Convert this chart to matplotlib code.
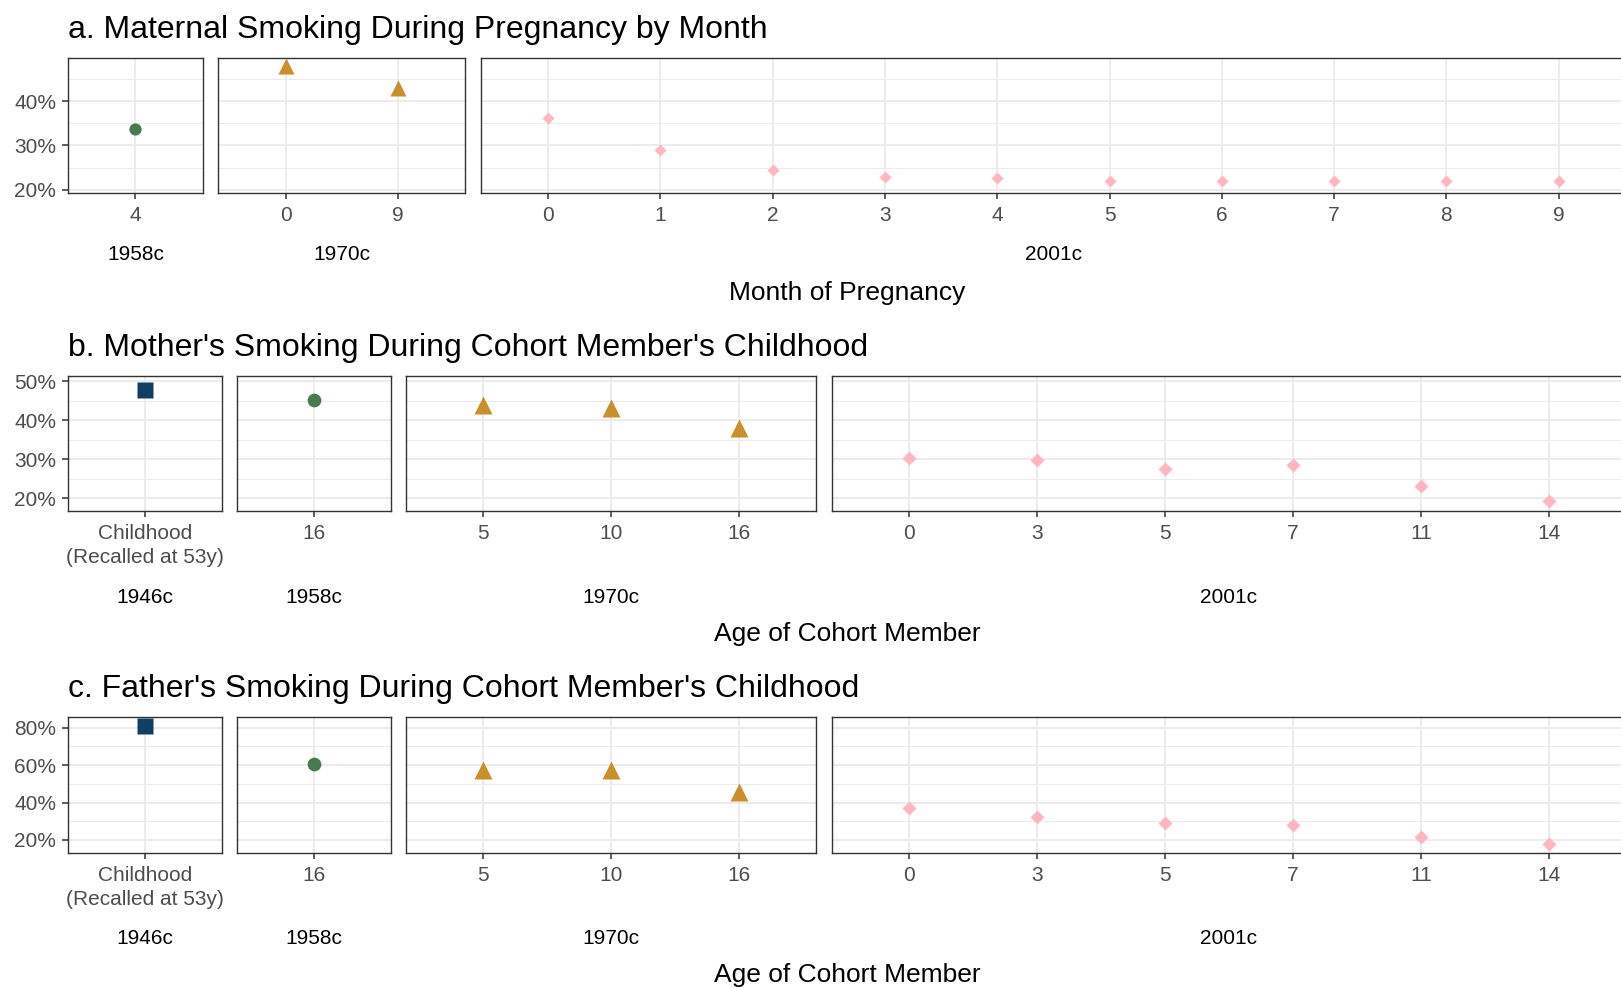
import matplotlib

matplotlib.use("Agg")

import matplotlib.pyplot as plt
from matplotlib.ticker import FixedLocator, FuncFormatter, MultipleLocator

plt.rcParams["font.family"] = ["Liberation Sans", "DejaVu Sans"]

# ---- data (percent smoking) ----
preg_cohorts = ["1958c", "1970c", "2001c"]
preg_months = [["4"], ["0", "9"], ["0", "1", "2", "3", "4", "5", "6", "7", "8", "9"]]
preg_values = [
    [33.6],
    [47.9, 42.9],
    [36.3, 29.0, 24.5, 23.0, 22.6, 22.1, 22.1, 22.0, 22.0, 22.0],
]

child_cohorts = ["1946c", "1958c", "1970c", "2001c"]
child_ages = [
    ["Childhood\n(Recalled at 53y)"],
    ["16"],
    ["5", "10", "16"],
    ["0", "3", "5", "7", "11", "14"],
]
mother_values = [
    [47.7],
    [45.1],
    [43.9, 43.2, 37.9],
    [30.2, 29.8, 27.5, 28.5, 23.2, 19.4],
]
mother_ci_1946 = (45.9, 49.6)
father_values = [
    [80.9],
    [60.5],
    [57.4, 57.4, 45.8],
    [37.3, 32.4, 28.9, 28.0, 21.8, 17.9],
]

cohort_colors = {"1946c": "#123E63", "1958c": "#477A4E", "1970c": "#C98F2C", "2001c": "#FFB6C1"}
cohort_markers = {"1946c": "s", "1958c": "o", "1970c": "^", "2001c": "D"}
cohort_msize = {"1946c": 10, "1958c": 8.8, "1970c": 12, "2001c": 6.6}

W, H = 1621, 988
fig = plt.figure(figsize=(W / 100, H / 100), dpi=100)

LEFT, RIGHT, GAP = 68, 1626, 15.5
TICK_FS, STRIP_FS, AXT_FS, TITLE_FS = 15, 15, 19, 23


def fx(x):
    return x / W


def fy(y):
    return 1 - y / H


def draw_row(title, title_y, top, bottom, cohorts, labels, values, ylim, yticks,
             yminor, xlabel, strip_y, xlabel_y, scale=1.0, ci=None):
    units = [len(l) + 0.2 for l in labels]
    unit = (RIGHT - LEFT - GAP * (len(labels) - 1)) / sum(units)
    x0 = LEFT
    fig.text(fx(LEFT), fy(title_y), title, fontsize=TITLE_FS, color="black", va="baseline")
    for i, (coh, labs, vals) in enumerate(zip(cohorts, labels, values)):
        w = units[i] * unit
        ax = fig.add_axes([fx(x0), fy(bottom), w / W, (bottom - top) / H])
        ax.set_xlim(-0.6, len(labs) - 0.4)
        ax.set_ylim(*ylim)
        ax.set_axisbelow(True)
        ax.yaxis.set_major_locator(FixedLocator(yticks))
        ax.yaxis.set_minor_locator(MultipleLocator(yminor))
        ax.yaxis.set_major_formatter(FuncFormatter(lambda v, p: f"{v:.0f}%"))
        ax.set_xticks(range(len(labs)))
        ax.set_xticklabels(labs, fontsize=TICK_FS, color="#4D4D4D", linespacing=1.3)
        ax.grid(True, which="major", color="#EBEBEB", lw=1.3)
        ax.grid(True, which="minor", axis="y", color="#EBEBEB", lw=0.7)
        ax.tick_params(axis="x", length=4.6, width=1.1, color="#333333", pad=5)
        ax.tick_params(axis="y", which="minor", left=False)
        if i == 0:
            ax.tick_params(axis="y", length=4.6, width=1.1, color="#333333", pad=4,
                           labelsize=TICK_FS, labelcolor="#4D4D4D")
        else:
            ax.tick_params(axis="y", which="both", left=False, labelleft=False)
        for s in ax.spines.values():
            s.set_color("#333333")
            s.set_linewidth(1.0)
        xs = list(range(len(vals)))
        if ci is not None and coh == ci[0]:
            ax.vlines(0, ci[1][0], ci[1][1], color=cohort_colors[coh], lw=1.2, zorder=3)
        ax.plot(xs, vals, ls="none", marker=cohort_markers[coh],
                ms=cohort_msize[coh] * scale, color=cohort_colors[coh],
                mec="none", zorder=4, clip_on=False)
        fig.text(fx(x0 + w / 2), fy(strip_y), coh, fontsize=STRIP_FS, color="black",
                 ha="center", va="baseline")
        x0 += w + GAP
    fig.text(fx((LEFT + RIGHT) / 2), fy(xlabel_y), xlabel, fontsize=AXT_FS,
             color="black", ha="center", va="baseline")


draw_row("a. Maternal Smoking During Pregnancy by Month", 37.7, 58, 193,
         preg_cohorts, preg_months, preg_values, (19.3, 49.7), [20, 30, 40], 5,
         "Month of Pregnancy", 260.5, 300, scale=1.0)

draw_row("b. Mother's Smoking During Cohort Member's Childhood", 356, 375.7, 511,
         child_cohorts, child_ages, mother_values, (16.75, 51.36), [20, 30, 40, 50], 5,
         "Age of Cohort Member", 603, 641, scale=1.12,
         ci=("1946c", mother_ci_1946))

draw_row("c. Father's Smoking During Cohort Member's Childhood", 697, 716.7, 852.7,
         child_cohorts, child_ages, father_values, (13.2, 85.9), [20, 40, 60, 80], 10,
         "Age of Cohort Member", 943.5, 982, scale=1.12)

fig.savefig("out.png", dpi=100, facecolor="white")
